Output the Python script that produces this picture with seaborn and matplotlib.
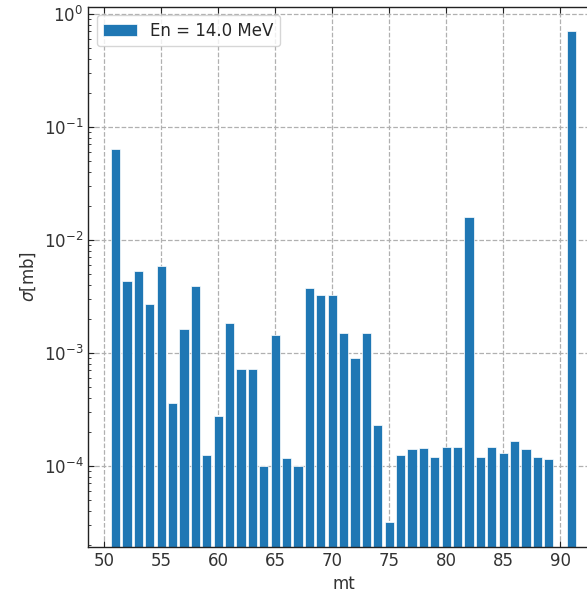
import matplotlib
matplotlib.use("Agg")
import matplotlib.pyplot as plt
import seaborn as sns
import pandas as pd

# reaction channels (mt) and cross sections at 14 MeV
mt = [51, 52, 53, 54, 55, 56, 57, 58, 59, 60,
      61, 62, 63, 64, 65, 66, 67, 68, 69, 70,
      71, 72, 73, 74, 75, 76, 77, 78, 79, 80,
      81, 82, 83, 84, 85, 86, 87, 88, 89, 91]
xs = [0.063, 0.0043, 0.00528, 0.0027, 0.0059, 0.000356, 0.00163, 0.0039, 0.000124, 0.000275,
      0.00184, 0.000713, 0.000713, 0.0001, 0.00144, 0.000117, 0.0000988, 0.00372, 0.00326, 0.00326,
      0.00151, 0.00089, 0.00151, 0.000231, 0.0000318, 0.000124, 0.00014, 0.000143, 0.00012, 0.000147,
      0.000147, 0.0158, 0.00012, 0.000147, 0.00013, 0.000166, 0.00014, 0.00012, 0.000114, 0.698]
label = "En = 14.0 MeV"

df = pd.DataFrame({"mt": mt, "xs": xs})

sns.set_style("ticks")
plt.rcParams["font.family"] = ["DejaVu Sans"]
plt.rcParams["xtick.direction"] = "in"
plt.rcParams["ytick.direction"] = "in"

fig = plt.figure(figsize=(5.87, 5.94), dpi=100)
ax = fig.add_axes([0.1504, 0.0796, 0.870, 0.9094])

sns.barplot(data=df, x="mt", y="xs", native_scale=True, color="#1f77b4",
            saturation=1, edgecolor="white", linewidth=0.5, label=label, ax=ax)
ax.set_yscale("log")
ax.set_ylim(1.92e-5, 1.158)
ax.set_xlim(48.6, 93.4)
ax.set_xticks([50, 55, 60, 65, 70, 75, 80, 85, 90])

ax.grid(True, linestyle="--", color="#b0b0b0", linewidth=0.9)
ax.set_axisbelow(True)
ax.tick_params(which="both", top=True, right=True, direction="in", colors="#222222")
ax.tick_params(which="major", length=4)
ax.tick_params(which="minor", length=2.5)
ax.tick_params(axis="both", labelcolor="#333333", labelsize=12)
for s in ax.spines.values():
    s.set_color("#222222")
    s.set_linewidth(1.0)

ax.set_xlabel("mt", fontsize=12, color="#333333")
ax.set_ylabel(r"$\sigma$[mb]", fontsize=12, color="#333333")
ax.legend(loc="upper left", fontsize=12)

fig.savefig("out.png", dpi=100)
